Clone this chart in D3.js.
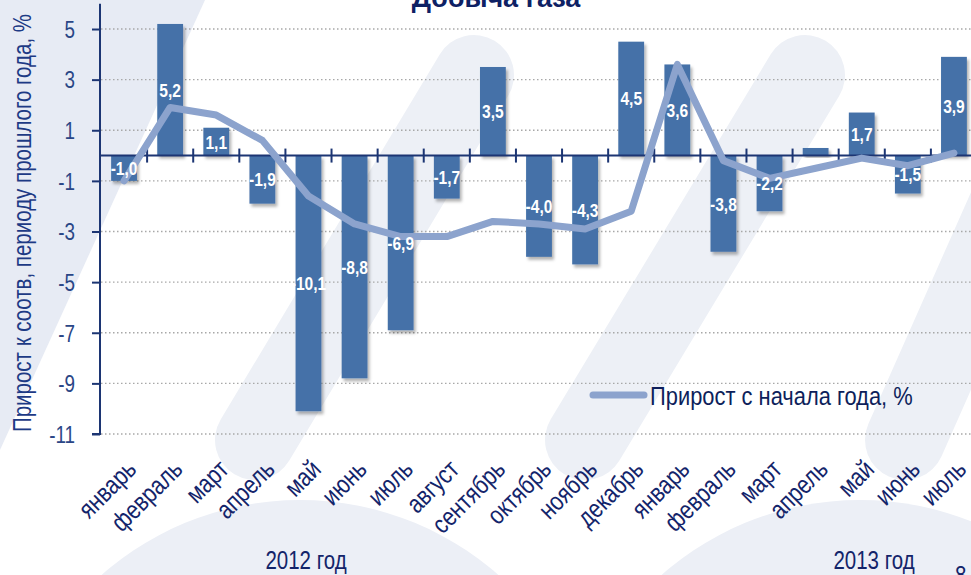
<!DOCTYPE html>
<html lang="ru">
<head>
<meta charset="UTF-8">
<script src="https://d3js.org/d3.v7.min.js"></script>
<title>Добыча газа</title>
<style>
  body { margin: 0; background: #fff; }
  svg { display: block; }
  text { font-family: "Liberation Sans", Arial, sans-serif; }
</style>
</head>
<body>
<svg width="971" height="575"></svg>
<script>
// данные
const months = ["январь","февраль","март","апрель","май","июнь","июль","август","сентябрь","октябрь","ноябрь","декабрь",
                "январь","февраль","март","апрель","май","июнь","июль"];
const yoy = [-1.0, 5.2, 1.1, -1.9, -10.1, -8.8, -6.9, -1.7, 3.5, -4.0, -4.3, 4.5,
             3.6, -3.8, -2.2, 0.3, 1.7, -1.5, 3.9];
const ytd = [-1.0, 1.9, 1.6, 0.6, -1.6, -2.7, -3.2, -3.2, -2.6, -2.7, -2.9, -2.2,
             3.6, -0.2, -0.9, -0.5, -0.1, -0.4, 0.1];
const yTicks = [5, 3, 1, -1, -3, -5, -7, -9, -11];
const years = ["2012 год", "2013 год"];
const hiddenLabels = [15];

const width = 971, height = 575;
const mLeft = 101, mRight = 977, mTop = 3.7, mBottom = 434;
const navy = "#1c3573", barColor = "#4471a8", lineColor = "#8ca3cd", textNavy = "#13246a";
const NARROW = 0.82; // имитация узкого шрифта

const svg = d3.select("svg");
const fmt = v => v.toFixed(1).replace(".", ",");
const narrow = (x, y, rot) => `translate(${x},${y})${rot ? ` rotate(${rot})` : ""} scale(${NARROW},1)`;

// фон (водяной знак)
const bg = svg.append("g");
bg.append("path").attr("d", "M0,0 L205,0 L0,450 Z").attr("fill", "#e7ebf4");
bg.append("circle").attr("cx", 300).attr("cy", 800).attr("r", 300).attr("fill", "#eceff6");
bg.append("circle").attr("cx", 860).attr("cy", 800).attr("r", 300).attr("fill", "#eceff6");
[[474, 75, 255, 440], [805, 75, 585, 440], [1060, 90, 905, 440]].forEach(s => {
  bg.append("line").attr("x1", s[0]).attr("y1", s[1]).attr("x2", s[2]).attr("y2", s[3])
    .attr("stroke", "#edf0f6").attr("stroke-width", 80).attr("stroke-linecap", "round");
});

const x = d3.scaleBand().domain(d3.range(months.length)).range([mLeft, mRight]).paddingInner(0.44).paddingOuter(0.22);
const xc = d3.scaleBand().domain(d3.range(months.length)).range([mLeft, mRight]);
const y = d3.scaleLinear().domain([-11, 6]).range([mBottom, mTop]);
const cx = i => xc(i) + xc.bandwidth() / 2;

const defs = svg.append("defs");
defs.append("filter").attr("id", "shadow").attr("x", "-20%").attr("y", "-20%").attr("width", "150%").attr("height", "150%")
  .append("feDropShadow").attr("dx", 2).attr("dy", 3).attr("stdDeviation", 1.5)
  .attr("flood-color", "#000").attr("flood-opacity", 0.3);

// сетка
svg.append("g").selectAll("line").data(yTicks).join("line")
  .attr("x1", mLeft).attr("x2", width)
  .attr("y1", d => y(d)).attr("y2", d => y(d))
  .attr("stroke", "#a8a8a8").attr("stroke-width", 1.3).attr("stroke-dasharray", "1.5,2.5");

// столбцы
svg.append("g").selectAll("rect").data(yoy).join("rect")
  .attr("x", (d, i) => x(i)).attr("width", x.bandwidth())
  .attr("y", d => y(Math.max(0, d))).attr("height", d => Math.abs(y(d) - y(0)))
  .attr("fill", barColor).attr("filter", "url(#shadow)");

// ось Y
const yAxis = svg.append("g").attr("transform", `translate(${mLeft - 1},0)`)
  .call(d3.axisLeft(y).tickValues(yTicks).tickSize(8).tickPadding(6).tickFormat(d => d));
yAxis.select(".domain").attr("stroke", navy).attr("stroke-width", 2).attr("d", `M-8,${mBottom}H0V${mTop}`);
yAxis.selectAll(".tick line").attr("stroke", navy).attr("stroke-width", 2);
yAxis.selectAll(".tick text")
  .attr("x", null).attr("dy", "0.36em")
  .attr("transform", `translate(-25,0) scale(${NARROW},1)`)
  .attr("font-family", "Liberation Sans, Arial, sans-serif")
  .attr("font-size", 23).attr("fill", "#2a4686");

// ось X на нуле
svg.append("line").attr("x1", mLeft - 1).attr("x2", width).attr("y1", y(0)).attr("y2", y(0))
  .attr("stroke", navy).attr("stroke-width", 2);
svg.append("g").selectAll("line").data(d3.range(1, months.length + 1)).join("line")
  .attr("x1", d => xc(0) + d * xc.step()).attr("x2", d => xc(0) + d * xc.step())
  .attr("y1", y(0) - 7).attr("y2", y(0) + 7)
  .attr("stroke", navy).attr("stroke-width", 2);

// линия прироста с начала года
const line = d3.line().x((d, i) => cx(i)).y(d => y(d));
svg.append("path").datum(ytd).attr("d", line)
  .attr("fill", "none").attr("stroke", lineColor).attr("stroke-width", 7)
  .attr("stroke-linecap", "round").attr("stroke-linejoin", "round");

// подписи значений
svg.append("g").selectAll("text").data(yoy.map((v, i) => ({v, i})).filter(d => !hiddenLabels.includes(d.i))).join("text")
  .attr("transform", d => narrow(x(d.i) + x.bandwidth() / 2, (y(d.v) + y(0)) / 2))
  .attr("dy", "0.36em")
  .attr("text-anchor", "middle").attr("font-size", 19).attr("font-weight", "bold")
  .attr("fill", "#fff").text(d => fmt(d.v));

// подписи месяцев
svg.append("g").selectAll("text").data(months).join("text")
  .attr("transform", (d, i) => narrow(cx(i) + 1, 458, -45))
  .attr("text-anchor", "end").attr("dy", "0.7em")
  .attr("font-size", 26).attr("fill", textNavy).text(d => d);

// годы
svg.append("text").attr("transform", narrow(306, 569))
  .attr("text-anchor", "middle").attr("font-size", 25).attr("fill", textNavy).text(years[0]);
svg.append("text").attr("transform", narrow(874, 569))
  .attr("text-anchor", "middle").attr("font-size", 25).attr("fill", textNavy).text(years[1]);
svg.append("text").attr("transform", narrow(955, 584))
  .attr("font-size", 25).attr("fill", textNavy).text("8");

// заголовок оси Y
svg.append("text")
  .attr("transform", `translate(31,${(mBottom + 10) / 2 + 1}) rotate(-90) scale(${NARROW},1)`)
  .attr("text-anchor", "middle").attr("font-size", 25).attr("fill", "#1d3a85")
  .text("Прирост к соотв, периоду прошлого года, %");

// заголовок
svg.append("text").attr("x", 496).attr("y", 7).attr("text-anchor", "middle")
  .attr("font-weight", "bold").attr("font-size", 27).attr("fill", "#0e2164").text("Добыча газа");

// легенда
svg.append("line").attr("x1", 593).attr("x2", 644).attr("y1", 395).attr("y2", 395)
  .attr("stroke", lineColor).attr("stroke-width", 7).attr("stroke-linecap", "round");
svg.append("text").attr("transform", narrow(650, 395)).attr("dy", "0.36em")
  .attr("font-size", 26.7).attr("fill", "#0e1f5b").text("Прирост с начала года, %");
</script>
</body>
</html>
